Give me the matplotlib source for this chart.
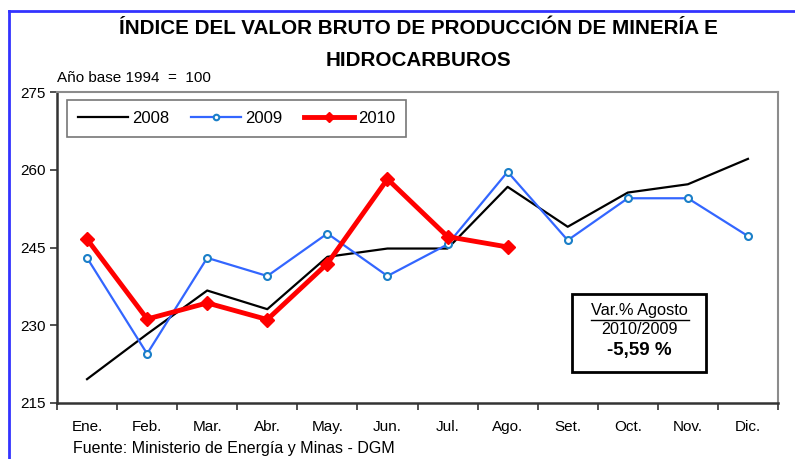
import matplotlib.pyplot as plt
from matplotlib.lines import Line2D
from matplotlib.patches import Rectangle

plt.rcParams['font.family'] = ['Liberation Sans', 'DejaVu Sans']

meses = ['Ene.', 'Feb.', 'Mar.', 'Abr.', 'May.', 'Jun.',
         'Jul.', 'Ago.', 'Set.', 'Oct.', 'Nov.', 'Dic.']
v2008 = [219.6, 228.3, 236.7, 233.1, 243.2, 244.8, 244.8, 256.7, 249.0, 255.6, 257.2, 262.1]
v2009 = [243.0, 224.5, 243.0, 239.5, 247.7, 239.5, 245.6, 259.6, 246.4, 254.5, 254.5, 247.2]
v2010 = [246.6, 231.2, 234.3, 231.1, 241.9, 258.2, 247.1, 245.1]
yticks = [215, 230, 245, 260, 275]

fig = plt.figure(figsize=(7.95, 4.59), dpi=100)
ax = fig.add_axes([57/795, 1-403/459, 721/795, 311/459])

x = list(range(len(meses)))
ax.plot(x, v2008, color='black', lw=1.6, label='2008')
ax.plot(x, v2009, color='#3366ff', lw=1.6, marker='o', ms=5, mfc='white',
        mec='#1a7fc8', mew=1.5, label='2009')
ax.plot(x[:len(v2010)], v2010, color='#ff0000', lw=3.5, marker='D', ms=7,
        mfc='#ff0000', mec='#ff0000', label='2010')

ax.set_xlim(-0.5, 11.5)
ax.set_ylim(215, 275)
ax.set_yticks(yticks)
ax.set_yticklabels([str(t) for t in yticks], fontsize=11)
ax.set_xticks(x)
ax.set_xticklabels(meses, fontsize=11)
ax.set_xticks([i - 0.5 for i in range(13)], minor=True)
ax.tick_params(axis='x', which='major', length=0, pad=12)
ax.tick_params(axis='x', which='minor', length=5, width=1.2, color='#333333', direction='out')
ax.tick_params(axis='y', length=5, width=1.2, color='#333333', direction='out', pad=3)

for s in ['left', 'bottom']:
    ax.spines[s].set_color('#333333')
    ax.spines[s].set_linewidth(1.8)
for s in ['top', 'right']:
    ax.spines[s].set_color('#8c8c8c')
    ax.spines[s].set_linewidth(1.5)

leg = ax.legend(loc='upper left', ncol=3, bbox_to_anchor=((67 - 57) / 721, (403 - 100) / 311),
                borderaxespad=0, fontsize=12, handlelength=3.0, handletextpad=0.25,
                columnspacing=1.3, fancybox=False, borderpad=0.65, markerscale=0.8)
leg.get_frame().set_edgecolor('#555555')
leg.get_frame().set_linewidth(1.2)

# recuadro de variacion
cx = (639 - 57) / 721
ax.add_patch(Rectangle((0.714, 0.0997), 0.186, 0.2503, transform=ax.transAxes,
                       fill=False, edgecolor='black', lw=2))
ax.text(cx, (403 - 311) / 311, 'Var.% Agosto', transform=ax.transAxes, ha='center',
        va='center', fontsize=11.8)
ax.plot([(591 - 57) / 721, (689 - 57) / 721], [(403 - 320) / 311] * 2,
        transform=ax.transAxes, color='black', lw=1)
ax.text(cx, (403 - 330) / 311, '2010/2009', transform=ax.transAxes, ha='center',
        va='center', fontsize=11.6)
ax.text(cx, (403 - 351) / 311, '-5,59 %', transform=ax.transAxes, ha='center',
        va='center', fontsize=13.5, fontweight='bold')

fig.text(418/795, 1-28/459, 'ÍNDICE DEL VALOR BRUTO DE PRODUCCIÓN DE MINERÍA E',
         ha='center', va='center', fontsize=14.9, fontweight='bold')
fig.text(418/795, 1-60/459, 'HIDROCARBUROS', ha='center', va='center',
         fontsize=14.9, fontweight='bold')
fig.text(57/795, 1-78/459, 'Año base 1994  =  100', ha='left', va='center', fontsize=11)
fig.text(73/795, 1-448/459, 'Fuente: Ministerio de Energía y Minas - DGM',
         ha='left', va='center', fontsize=11.5)

# borde azul
fig.add_artist(Line2D([9/795, 9/795], [0, 1-11/459], color='#3333ff', lw=2))
fig.add_artist(Line2D([9/795, 1], [1-11/459, 1-11/459], color='#3333ff', lw=2))

fig.savefig('out.png', dpi=100)
